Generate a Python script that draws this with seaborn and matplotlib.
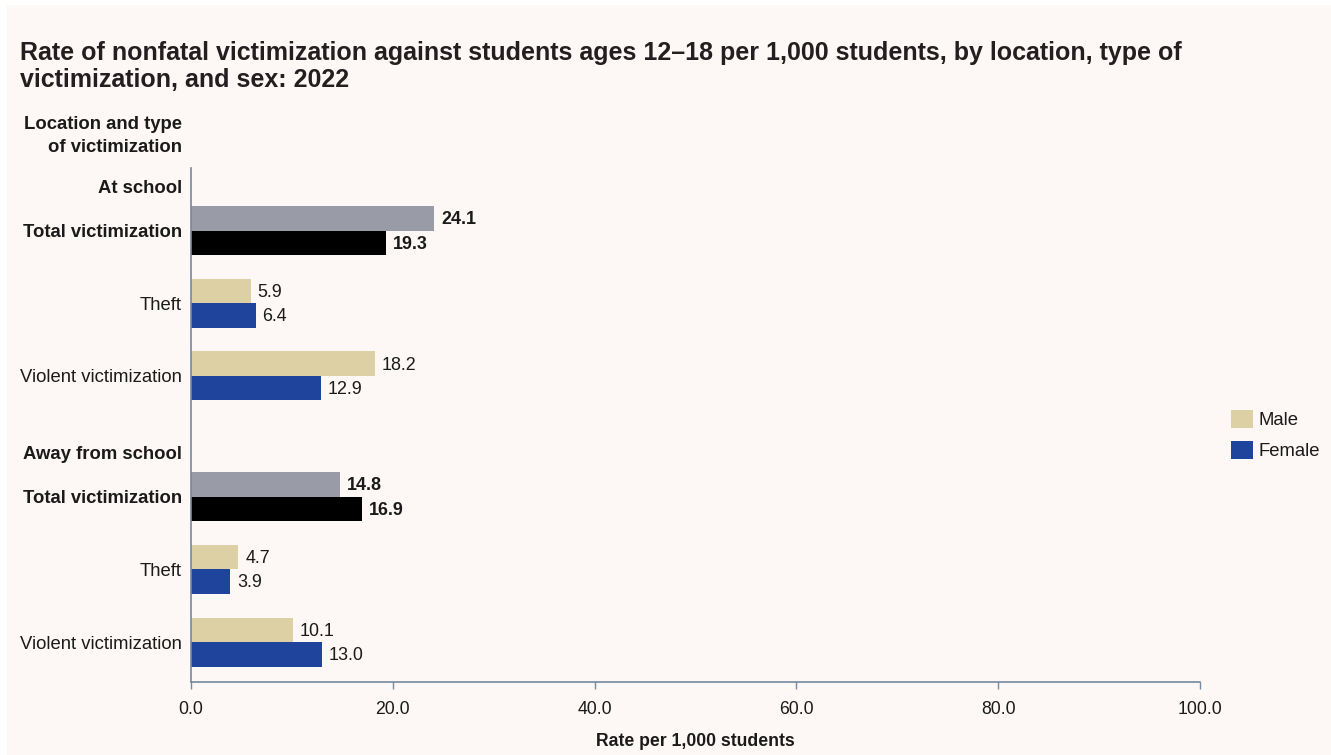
import numpy as np
import pandas as pd
import matplotlib
matplotlib.use("Agg")
import matplotlib.pyplot as plt
from matplotlib.patches import Rectangle, Patch
import seaborn as sns

# ---------------- data ----------------
locations = ["At school", "Away from school"]
vic_types = ["Total victimization", "Theft", "Violent victimization"]
male = [24.1, 5.9, 18.2, 14.8, 4.7, 10.1]
female = [19.3, 6.4, 12.9, 16.9, 3.9, 13.0]
legend_labels = ["Male", "Female"]
x_ticks = [0, 20, 40, 60, 80, 100]
x_title = "Rate per 1,000 students"
y_title = "Location and type\nof victimization"
title = ("Rate of nonfatal victimization against students ages 12\u201318 per 1,000 students, by location, type of\n"
         "victimization, and sex: 2022")

# ---------------- layout / style ----------------
BG = "#fdf8f5"
C_MALE = "#ddd0a5"
C_FEMALE = "#1e459b"
C_MALE_TOT = "#999ca7"
C_FEMALE_TOT = "#000000"
AXIS_C = "#7589a0"
TXT = "#1a1a1a"
group_start = [0.0, 3.66]
header_offset = -0.61
bar_h = 0.337

sns.set_theme(style="white")
plt.rcParams["font.family"] = ["Liberation Sans", "DejaVu Sans"]

rows = []
tick_pos, tick_lab, tick_bold = [], [], []
for g, loc in enumerate(locations):
    tick_pos.append(group_start[g] + header_offset)
    tick_lab.append(loc)
    tick_bold.append(True)
    for t, vt in enumerate(vic_types):
        i = g * len(vic_types) + t
        pos = group_start[g] + t
        is_tot = t == 0
        rows.append(dict(pos=pos - bar_h / 2, rate=male[i],
                         kind="Male total" if is_tot else "Male", bold=is_tot))
        rows.append(dict(pos=pos + bar_h / 2, rate=female[i],
                         kind="Female total" if is_tot else "Female", bold=is_tot))
        tick_pos.append(pos)
        tick_lab.append(vt)
        tick_bold.append(is_tot)
df = pd.DataFrame(rows)

W, H = 1331, 755
fig = plt.figure(figsize=(W / 100, H / 100), dpi=100, facecolor="white")
fig.patches.append(Rectangle((7 / W, 0), 1 - 7 / W, 1 - 5 / H, transform=fig.transFigure,
                             facecolor=BG, edgecolor="none", zorder=-10))
ax = fig.add_axes([191 / W, 1 - 682 / H, (1200 - 191) / W, (682 - 168) / H])
ax.set_facecolor(BG)

palette = {"Male": C_MALE, "Female": C_FEMALE, "Male total": C_MALE_TOT, "Female total": C_FEMALE_TOT}
sns.barplot(data=df, x="rate", y="pos", hue="kind", palette=palette, orient="y",
            native_scale=True, dodge=False, width=1.0, errorbar=None, legend=False,
            saturation=1, ax=ax, linewidth=0)

ax.set_xlim(0, 100)
ax.set_ylim(6.21, -0.86)
ax.set_xticks(x_ticks)
ax.set_xticklabels([f"{v:.1f}" for v in x_ticks], fontsize=12.7, color=TXT)
ax.set_yticks(tick_pos)
ax.set_yticklabels(tick_lab, fontsize=13.3, color=TXT)
for lab, b in zip(ax.get_yticklabels(), tick_bold):
    lab.set_fontweight("bold" if b else "normal")
ax.tick_params(axis="y", length=0, pad=6.5)
ax.tick_params(axis="x", length=5, width=1, color=AXIS_C, pad=8.5, bottom=True)
ax.set_xlabel("")
ax.set_ylabel("")
for s in ["top", "right"]:
    ax.spines[s].set_visible(False)
for s in ["left", "bottom"]:
    ax.spines[s].set_color(AXIS_C)
    ax.spines[s].set_linewidth(1.2)

# value labels
for _, r in df.iterrows():
    ax.annotate(f"{r['rate']:.1f}", xy=(r["rate"], r["pos"]), xytext=(5, -1),
                textcoords="offset points", va="center", ha="left", fontsize=12.9,
                fontweight="bold" if r["bold"] else "normal", color=TXT)

# titles
fig.text(20 / W, 1 - 41 / H, title, ha="left", va="top", fontsize=18, fontweight="bold",
         color="#231f20", linespacing=1.15)
fig.text(182 / W, 1 - 136 / H, y_title, ha="right", va="center", fontsize=13.3,
         fontweight="bold", color=TXT, linespacing=1.45, multialignment="right")
fig.text(695.5 / W, 1 - 742 / H, x_title, ha="center", va="center", fontsize=12.7,
         fontweight="bold", color=TXT)

handles = [Patch(facecolor=C_MALE, edgecolor="none"), Patch(facecolor=C_FEMALE, edgecolor="none")]
fig.legend(handles, legend_labels, loc="upper left", bbox_to_anchor=(1231 / W, 1 - 410 / H),
           frameon=False, fontsize=13.3, handlelength=1.2, handleheight=1.15,
           handletextpad=0.3, labelspacing=0.6, borderpad=0, borderaxespad=0, labelcolor=TXT)

fig.savefig("out.png", dpi=100, facecolor=fig.get_facecolor())
